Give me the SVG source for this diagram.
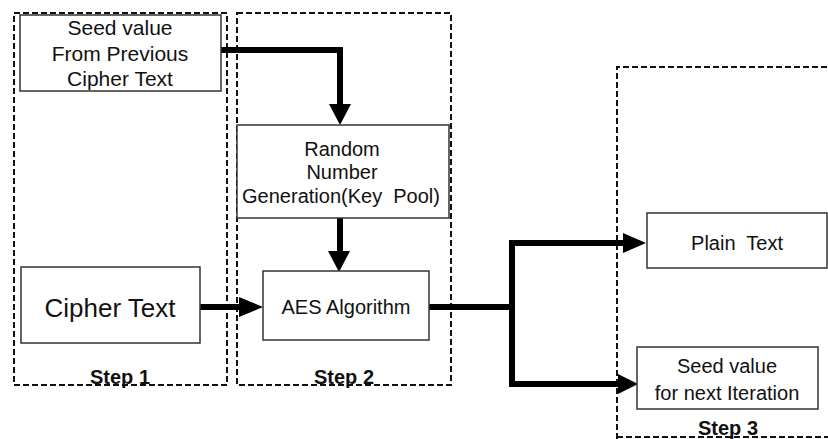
<svg xmlns="http://www.w3.org/2000/svg" width="828" height="439" viewBox="0 0 828 439">
  <style>
    .step { fill: none; stroke: #111; stroke-width: 2; stroke-dasharray: 6 3; }
    .box { fill: #fff; stroke: #333; stroke-width: 1.5; }
    .lbl { font-family: "Liberation Sans", Arial, sans-serif; font-size: 20px; fill: #111; text-anchor: middle; }
    .steplbl { font-family: "Liberation Sans", Arial, sans-serif; font-size: 20px; font-weight: bold; fill: #111; text-anchor: middle; }
    .wire { fill: none; stroke: #000; stroke-width: 6; }
    .head { fill: #000; }
  </style>
  <rect width="828" height="439" fill="#fff"/>

  <!-- step frames -->
  <g id="step1">
    <rect class="step" x="14" y="13" width="213" height="372"/>
    <text class="steplbl" x="120" y="384">Step 1</text>
  </g>
  <g id="step2">
    <rect class="step" x="237" y="13" width="214" height="372"/>
    <text class="steplbl" x="344" y="384">Step 2</text>
  </g>
  <g id="step3">
    <path class="step" d="M617 439 V67 H830"/>
    <path class="step" d="M617 437 H830"/>
    <text class="steplbl" x="728" y="435">Step 3</text>
  </g>

  <!-- connectors -->
  <g id="connectors">
    <path class="wire" d="M221 50 H340 V106"/>
    <polygon class="head" points="329,104 351,104 340,125"/>
    <path class="wire" d="M340 218 V252"/>
    <polygon class="head" points="328,251 350,251 339,272"/>
    <path class="wire" d="M200 307 H241"/>
    <polygon class="head" points="239,297 239,317 263,307"/>
    <path class="wire" d="M429 307 H512 M512 240 V387 M509 243 H625 M509 384 H620"/>
    <polygon class="head" points="623,233 623,253 646,243"/>
    <polygon class="head" points="618,374 618,394 638,384"/>
  </g>

  <!-- nodes -->
  <g id="seed-prev">
    <rect class="box" x="20" y="15" width="201" height="76"/>
    <text class="lbl" x="120" y="35" style="font-size:21px">Seed value</text>
    <text class="lbl" x="120" y="61" style="font-size:21px">From Previous</text>
    <text class="lbl" x="120" y="86" style="font-size:21px">Cipher Text</text>
  </g>
  <g id="rng">
    <rect class="box" x="237" y="125" width="212" height="93"/>
    <text class="lbl" x="342" y="156">Random</text>
    <text class="lbl" x="342" y="179">Number</text>
    <text class="lbl" x="341" y="203" xml:space="preserve">Generation(Key  Pool)</text>
  </g>
  <g id="cipher">
    <rect class="box" x="21" y="267" width="179" height="76"/>
    <text class="lbl" x="110" y="317" style="font-size:26px">Cipher Text</text>
  </g>
  <g id="aes">
    <rect class="box" x="263" y="271" width="166" height="69"/>
    <text class="lbl" x="346" y="314">AES Algorithm</text>
  </g>
  <g id="plain">
    <rect class="box" x="647" y="213" width="180" height="55"/>
    <text class="lbl" x="737" y="250" xml:space="preserve">Plain  Text</text>
  </g>
  <g id="seed-next">
    <rect class="box" x="637" y="347" width="181" height="62"/>
    <text class="lbl" x="727" y="373">Seed value</text>
    <text class="lbl" x="727" y="400">for next Iteration</text>
  </g>
</svg>
